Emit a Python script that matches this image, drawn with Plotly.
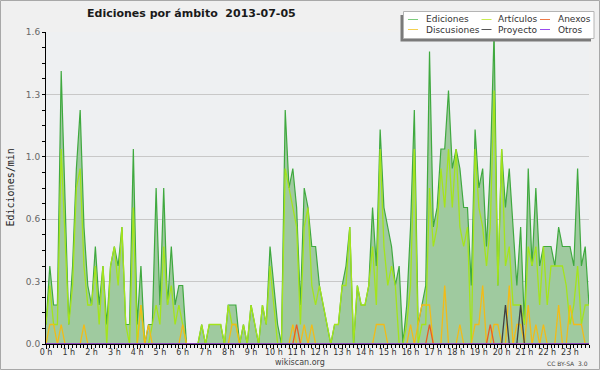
import plotly.graph_objects as go

# ---------------- data (edits per minute, 10-minute slots, 2013-07-05) ----------------
hours = [f"{h} h" for h in range(24)]
slots_per_hour = 6

ediciones = [
    0.1, 0.4, 0.2, 0.2, 1.4, 0.7,
    0.1, 0.4, 0.9, 1.2, 0.6, 0.3,
    0.2, 0.5, 0.2, 0.4, 0.1, 0.4,
    0.5, 0.4, 0.6, 0.1, 0.1, 1.0,
    0.1, 0.4, 0.0, 0.1, 0.1, 0.8,
    0.2, 0.8, 0.2, 0.5, 0.2, 0.3,
    0.3, 0.0, 0.0, 0.0, 0.0, 0.1,
    0.0, 0.1, 0.1, 0.1, 0.1, 0.0,
    0.2, 0.2, 0.2, 0.0, 0.1, 0.0,
    0.2, 0.1, 0.0, 0.2, 0.1, 0.5,
    0.3, 0.1, 0.0, 1.2, 0.8, 0.9,
    0.7, 0.2, 0.8, 0.7, 0.5, 0.5,
    0.3, 0.2, 0.1, 0.0, 0.1, 0.1,
    0.3, 0.4, 0.6, 0.0, 0.3, 0.2,
    0.2, 0.3, 0.7, 0.4, 1.1, 0.7,
    0.6, 0.5, 0.3, 0.4, 0.0, 0.2,
    0.6, 1.2, 0.1, 0.2, 0.3, 1.5,
    0.6, 0.7, 1.0, 1.0, 1.3, 0.9,
    1.0, 0.9, 0.7, 0.7, 0.3, 1.1,
    0.8, 0.9, 0.5, 0.9, 1.6, 0.3,
    1.0, 0.7, 0.9, 0.6, 0.3, 0.6,
    0.1, 0.9, 0.4, 0.8, 0.4, 0.5,
    0.5, 0.5, 0.4, 0.6, 0.5, 0.5,
    0.5, 0.4, 0.9, 0.4, 0.5, 0.2,
]

articulos = [
    0.1, 0.3, 0.1, 0.1, 1.0, 0.5,
    0.1, 0.3, 0.8, 0.9, 0.4, 0.2,
    0.2, 0.4, 0.1, 0.4, 0.0, 0.4,
    0.5, 0.3, 0.6, 0.1, 0.0, 0.7,
    0.0, 0.2, 0.0, 0.0, 0.1, 0.2,
    0.1, 0.5, 0.2, 0.3, 0.1, 0.2,
    0.1, 0.0, 0.0, 0.0, 0.0, 0.1,
    0.0, 0.1, 0.1, 0.1, 0.1, 0.0,
    0.2, 0.1, 0.1, 0.0, 0.1, 0.0,
    0.2, 0.1, 0.0, 0.2, 0.1, 0.4,
    0.2, 0.0, 0.0, 0.9, 0.8, 0.7,
    0.6, 0.1, 0.6, 0.7, 0.3, 0.2,
    0.3, 0.2, 0.1, 0.0, 0.1, 0.1,
    0.3, 0.3, 0.6, 0.0, 0.3, 0.2,
    0.2, 0.3, 0.5, 0.2, 1.0, 0.5,
    0.3, 0.4, 0.3, 0.0, 0.0, 0.1,
    0.3, 1.0, 0.0, 0.1, 0.1, 0.8,
    0.5, 0.6, 0.9, 0.7, 1.0, 0.7,
    1.0, 0.6, 0.5, 0.6, 0.0, 1.0,
    0.7, 0.6, 0.4, 0.6, 1.3, 0.3,
    1.0, 0.4, 0.5, 0.2, 0.2, 0.2,
    0.1, 0.5, 0.4, 0.5, 0.2, 0.5,
    0.2, 0.4, 0.4, 0.4, 0.4, 0.3,
    0.1, 0.2, 0.4, 0.1, 0.2, 0.2,
]

discusiones = [
    0.0, 0.1, 0.1, 0.0, 0.1, 0.0,
    0.0, 0.0, 0.0, 0.0, 0.1, 0.0,
    0.0, 0.0, 0.0, 0.0, 0.0, 0.0,
    0.0, 0.0, 0.0, 0.0, 0.0, 0.0,
    0.0, 0.2, 0.0, 0.1, 0.0, 0.0,
    0.0, 0.0, 0.0, 0.0, 0.0, 0.0,
    0.1, 0.0, 0.0, 0.0, 0.0, 0.0,
    0.0, 0.0, 0.0, 0.0, 0.0, 0.0,
    0.0, 0.1, 0.1, 0.0, 0.0, 0.0,
    0.0, 0.0, 0.0, 0.0, 0.0, 0.0,
    0.0, 0.0, 0.0, 0.0, 0.0, 0.1,
    0.0, 0.0, 0.1, 0.0, 0.1, 0.0,
    0.0, 0.0, 0.0, 0.0, 0.0, 0.0,
    0.0, 0.0, 0.0, 0.0, 0.0, 0.0,
    0.0, 0.0, 0.0, 0.1, 0.1, 0.1,
    0.0, 0.0, 0.0, 0.0, 0.0, 0.0,
    0.1, 0.0, 0.1, 0.2, 0.2, 0.2,
    0.0, 0.0, 0.0, 0.3, 0.0, 0.0,
    0.0, 0.1, 0.0, 0.0, 0.0, 0.1,
    0.1, 0.3, 0.0, 0.0, 0.1, 0.1,
    0.0, 0.0, 0.3, 0.0, 0.1, 0.1,
    0.0, 0.2, 0.0, 0.1, 0.0, 0.1,
    0.0, 0.0, 0.0, 0.2, 0.0, 0.0,
    0.2, 0.1, 0.1, 0.1, 0.0, 0.0,
]

anexos = [0.0] * 144
anexos_nonzero = {66: 0.1, 101: 0.1, 117: 0.1}
for k, v in anexos_nonzero.items():
    anexos[k] = v

proyecto = [0.0] * 144
proyecto_nonzero = {121: 0.2, 125: 0.2}
for k, v in proyecto_nonzero.items():
    proyecto[k] = v

otros = [0.0] * 144

series_names = ["Ediciones", "Artículos", "Anexos", "Discusiones", "Proyecto", "Otros"]
series_colors = {
    "Ediciones": "#3fa93f",
    "Artículos": "#a4e41c",
    "Anexos": "#ea5c22",
    "Discusiones": "#f2bb18",
    "Proyecto": "#404040",
    "Otros": "#9442e6",
}
legend_colors = {
    "Ediciones": "#7ccc7c",
    "Artículos": "#c8ec50",
    "Anexos": "#ee7a48",
    "Discusiones": "#f4d050",
    "Proyecto": "#555555",
    "Otros": "#9a4cee",
}
ediciones_fill = "#9fca9f"

y_ticks = [0.0, 0.32, 0.64, 0.96, 1.28, 1.6]

# ---------------- figure ----------------
x = [i / slots_per_hour for i in range(len(ediciones))]

fig = go.Figure()
fig.add_trace(go.Scatter(
    x=x, y=ediciones, name="Ediciones", mode="lines",
    line=dict(color=series_colors["Ediciones"], width=1.2),
    fill="tozeroy", fillcolor=ediciones_fill, showlegend=False))
for name, vals in [("Artículos", articulos), ("Discusiones", discusiones),
                   ("Anexos", anexos), ("Proyecto", proyecto), ("Otros", otros)]:
    fig.add_trace(go.Scatter(
        x=x, y=vals, name=name, mode="lines",
        line=dict(color=series_colors[name], width=1.3), showlegend=False))

W, H = 600, 370
PL, PR, PT, PB = 46, 589, 32, 344


def px(v):
    return (v - PL) / (PR - PL)


def py(v):
    return (PB - v) / (PB - PT)


shapes = []
# outer border
shapes.append(dict(type="rect", xref="paper", yref="paper",
                   x0=px(0.5), x1=px(599.5), y0=py(0.5), y1=py(369.5),
                   line=dict(color="#a8a8a8", width=1), fillcolor="rgba(0,0,0,0)", layer="above"))
# legend shadow and box
shapes.append(dict(type="rect", xref="paper", yref="paper",
                   x0=px(400.5), x1=px(591), y0=py(15), y1=py(41.5),
                   line=dict(width=0), fillcolor="#7a7a7a", layer="above"))
shapes.append(dict(type="rect", xref="paper", yref="paper",
                   x0=px(403.5), x1=px(594), y0=py(11.5), y1=py(38.5),
                   line=dict(color="#b4b4b4", width=1), fillcolor="#ffffff", layer="above"))

annotations = []
leg_cols = [(408, 424), (481.5, 496), (540, 555.5)]
leg_rows = [19.5, 29.5]
leg_layout = [["Ediciones", "Artículos", "Anexos"], ["Discusiones", "Proyecto", "Otros"]]
for r, row in enumerate(leg_layout):
    for c, name in enumerate(row):
        lx, tx = leg_cols[c]
        yy = leg_rows[r]
        shapes.append(dict(type="line", xref="paper", yref="paper",
                           x0=px(lx), x1=px(lx + 10), y0=py(yy), y1=py(yy),
                           line=dict(color=legend_colors[name], width=1), layer="above"))
        annotations.append(dict(text=name, xref="paper", yref="paper",
                                x=px(tx), y=py(yy), xanchor="left", yanchor="middle",
                                showarrow=False,
                                font=dict(family="DejaVu Sans", size=9, color="#333333")))

annotations.append(dict(text="<b>Ediciones por ámbito  2013-07-05</b>", xref="paper", yref="paper",
                        x=px(85), y=py(13.5), xanchor="left", yanchor="middle", showarrow=False,
                        font=dict(family="DejaVu Sans", size=11, color="#1a1a1a")))
annotations.append(dict(text="Ediciones/min", xref="paper", yref="paper",
                        x=px(9.5), y=py(188), xanchor="center", yanchor="middle", textangle=-90,
                        showarrow=False,
                        font=dict(family="DejaVu Sans Mono", size=10, color="#222222")))
annotations.append(dict(text="wikiscan.org", xref="paper", yref="paper",
                        x=px(300), y=py(362.5), xanchor="center", yanchor="middle", showarrow=False,
                        font=dict(family="DejaVu Sans", size=8, color="#444444")))
annotations.append(dict(text="CC BY-SA  3.0", xref="paper", yref="paper",
                        x=px(590), y=py(363), xanchor="right", yanchor="middle", showarrow=False,
                        font=dict(family="DejaVu Sans", size=6, color="#444444")))

fig.update_layout(
    width=W, height=H,
    margin=dict(l=PL, r=W - PR, t=PT, b=H - PB, pad=0),
    paper_bgcolor="#f0f0f0",
    plot_bgcolor="#eef0f2",
    showlegend=False,
    shapes=shapes,
    annotations=annotations,
    xaxis=dict(
        range=[0, (len(ediciones) - 1) / slots_per_hour],
        tickvals=list(range(24)), ticktext=hours,
        ticks="outside", ticklen=4, tickcolor="#000000", tickwidth=1,
        minor=dict(dtick=1 / slots_per_hour, tick0=0, ticks="outside", ticklen=3,
                   tickcolor="#000000", showgrid=False),
        showline=True, linecolor="#000000", linewidth=1,
        showgrid=False, zeroline=False,
        tickfont=dict(family="DejaVu Sans", size=8, color="#333333"),
        ticklabelstandoff=-4,
        fixedrange=True,
    ),
    yaxis=dict(
        range=[0, 1.6],
        tickvals=y_ticks, tickformat=".1f",
        ticks="outside", ticklen=3, tickcolor="#000000", tickwidth=1,
        minor=dict(dtick=0.08, tick0=0, ticks="outside", ticklen=3,
                   tickcolor="#000000", showgrid=False),
        showline=True, linecolor="#000000", linewidth=1,
        showgrid=True, gridcolor="#c8c8c8", gridwidth=1, zeroline=False,
        tickfont=dict(family="DejaVu Sans", size=9, color="#666666"),
        fixedrange=True,
    ),
)

fig.write_html("out.html", config={"displayModeBar": False},
               post_script="document.body.style.margin='0';")
